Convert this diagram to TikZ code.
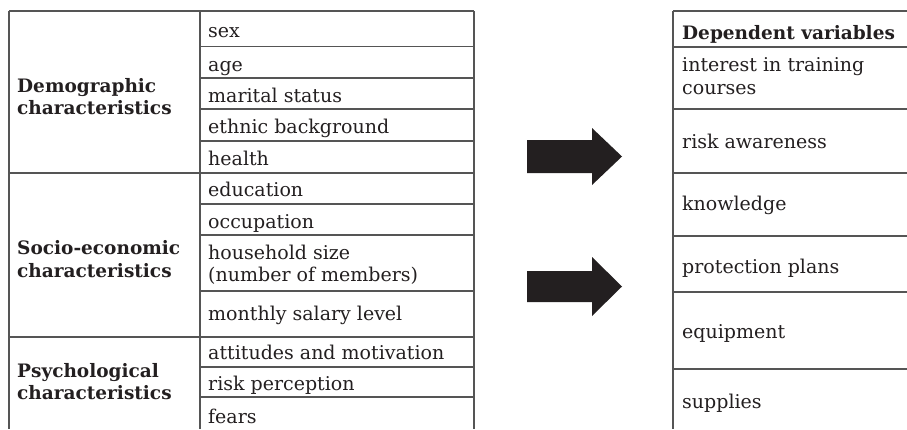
\documentclass[tikz,border=0pt]{standalone}
\usepackage{fontspec}
\setmainfont{DejaVu Serif}
\definecolor{arrowc}{HTML}{231F20}
\definecolor{gridc}{HTML}{555555}
\definecolor{textc}{HTML}{231F20}
\begin{document}
\begin{tikzpicture}[x=1pt,y=-1pt,
  grid/.style={draw=gridc, line width=1.4pt},
  cell/.style={anchor=base west, inner sep=0pt, font=\fontsize{19}{23}\selectfont, text=textc},
  group/.style={cell, font=\bfseries\fontsize{18.5}{22}\selectfont},
  bigarrow/.style={fill=arrowc, draw=none}]
\useasboundingbox (0,0) rectangle (907,429);
% left table
\draw[grid] (9,11) -- (474,11);
\draw[grid] (9,173) -- (474,173);
\draw[grid] (9,337) -- (474,337);
\foreach \yy in {46.7,78,109,141,204,235,291,367,397}
  \draw[grid] (200,\yy) -- (474,\yy);
\draw[grid] (9,11) -- (9,429);
\draw[grid] (200,11) -- (200,429);
\draw[grid] (474,11) -- (474,429);
% right table
\draw[grid] (673,11) -- (907,11);
\foreach \yy in {47,109,173,236,292,369}
  \draw[grid] (673,\yy) -- (907,\yy);
\draw[grid] (673,11) -- (673,429);
% group labels
\node[group] (demoA) at (17,92) {Demographic};
\node[group] (demoB) at (17,114) {characteristics};
\node[group] (socA) at (17,254) {Socio-economic};
\node[group] (socB) at (17,277) {characteristics};
\node[group] (psyA) at (17,377) {Psychological};
\node[group] (psyB) at (17,399) {characteristics};
% left items
\node[cell] (sex) at (208,37) {sex};
\node[cell] (age) at (208,71.5) {age};
\node[cell] (marital) at (208,102) {marital status};
\node[cell] (ethnic) at (208,133.5) {ethnic background};
\node[cell] (health) at (208,165) {health};
\node[cell] (edu) at (208,196.5) {education};
\node[cell] (occ) at (208,228) {occupation};
\node[cell] (houseA) at (208,259.5) {household size};
\node[cell] (houseB) at (208,281) {(number of members)};
\node[cell] (salary) at (208,320) {monthly salary level};
\node[cell] (att) at (208,359) {attitudes and motivation};
\node[cell] (riskp) at (208,390) {risk perception};
\node[cell] (fears) at (208,423) {fears};
% right items
\node[group] (dep) at (682,39) {Dependent variables};
\node[cell] (intA) at (682,71) {interest in training};
\node[cell] (intB) at (682,94) {courses};
\node[cell] (riska) at (682,148) {risk awareness};
\node[cell] (know) at (682,210) {knowledge};
\node[cell] (prot) at (682,273) {protection plans};
\node[cell] (equip) at (682,338) {equipment};
\node[cell] (supp) at (682,408) {supplies};
% arrows
\fill[bigarrow] (527,140) -- (592,140) -- (592,128) -- (622,156.5) -- (592,185) -- (592,173) -- (527,173) -- cycle;
\fill[bigarrow] (527,271) -- (592,271) -- (592,257) -- (622,286.5) -- (592,316) -- (592,302) -- (527,302) -- cycle;
\end{tikzpicture}
\end{document}
